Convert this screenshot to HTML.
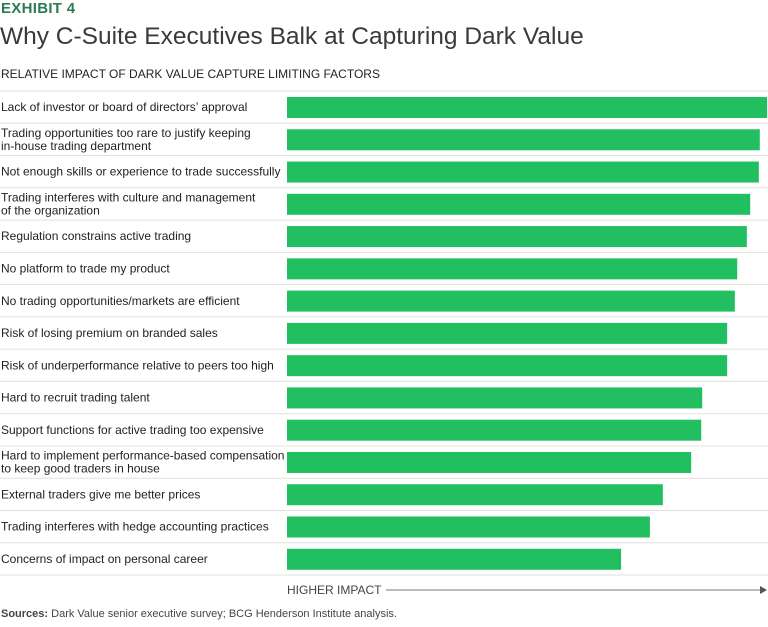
<!DOCTYPE html>
<html><head><meta charset="utf-8"><style>
body{margin:0;width:768px;height:627px;background:#fff;font-family:"Liberation Sans",sans-serif;color:#333;position:relative;overflow:hidden}
.abs{position:absolute;white-space:nowrap}
</style></head><body>
<div class="abs" style="left:1px;top:0px;font-size:15px;font-weight:bold;color:#2d7a55;letter-spacing:0.3px">EXHIBIT 4</div>
<div class="abs" style="left:0px;top:23px;font-size:24.5px;color:#3a3a3a">Why C-Suite Executives Balk at Capturing Dark Value</div>
<div class="abs" style="left:1px;top:67px;font-size:12px;color:#222">RELATIVE IMPACT OF DARK VALUE CAPTURE LIMITING FACTORS</div>
<svg id="chart" width="768" height="627" style="position:absolute;left:0;top:0" xmlns="http://www.w3.org/2000/svg"></svg>
<div class="abs" style="left:1px;top:608px;font-size:11px;color:#444"><b>Sources:</b> Dark Value senior executive survey; BCG Henderson Institute analysis.</div>
<script>
const categories=["Lack of investor or board of directors’ approval","Trading opportunities too rare to justify keeping\nin-house trading department","Not enough skills or experience to trade successfully","Trading interferes with culture and management\nof the organization","Regulation constrains active trading","No platform to trade my product","No trading opportunities/markets are efficient","Risk of losing premium on branded sales","Risk of underperformance relative to peers too high","Hard to recruit trading talent","Support functions for active trading too expensive","Hard to implement performance-based compensation\nto keep good traders in house","External traders give me better prices","Trading interferes with hedge accounting practices","Concerns of impact on personal career"];
const values=[100,98.5,98.3,96.5,95.8,93.8,93.3,91.7,91.7,86.5,86.3,84.2,78.3,75.6,69.6];
const axisLabel="HIGHER IMPACT";
const svg=document.getElementById('chart');
const NS="http://www.w3.org/2000/svg";
const x0=287,x1=767,yTop=91,rowH=32.27;
const xs=v=>x0+(x1-x0)*v/100;
const ys=i=>yTop+i*rowH;
function mk(t,a){const e=document.createElementNS(NS,t);for(const k in a)e.setAttribute(k,a[k]);svg.appendChild(e);return e;}
for(let i=0;i<=categories.length;i++){
  const l=mk('line',{x1:0,x2:768,y1:ys(i),y2:ys(i),stroke:'#e2e0dc','stroke-width':1});
  
  
}
categories.forEach((c,i)=>{
  const r=mk('rect',{x:x0,y:ys(i)+6,width:xs(values[i])-x0,height:21,fill:'#22bf60'});
  
  
  const lines=c.split('\n');
  const t=mk('text',{x:1,'font-size':12,fill:'#222'});
  
  
  const cy=ys(i)+rowH/2;
  lines.forEach((s,j)=>{const ts=document.createElementNS(NS,'tspan');ts.setAttribute('x',1);ts.setAttribute('y',cy+4+(j-(lines.length-1)/2)*13);ts.textContent=s;t.appendChild(ts);});
});
const at=mk('text',{x:x0,y:594,'font-size':12,fill:'#444'});
at.textContent=axisLabel;


const al=mk('line',{x1:386,x2:760,y1:590,y2:590,stroke:'#777','stroke-width':1});


const ah=mk('polygon',{points:'760,586 767,590 760,594',fill:'#555'});


</script>
</body></html>
